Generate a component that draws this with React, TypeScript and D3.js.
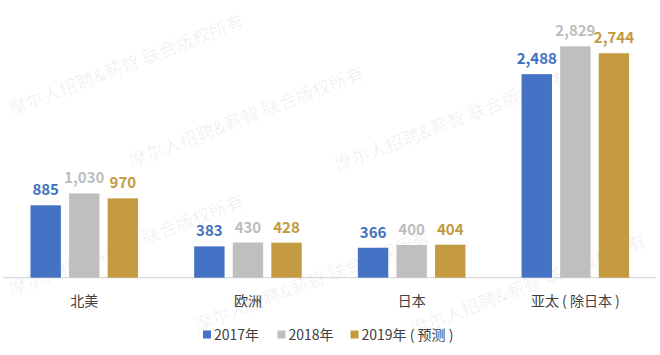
import React from "react";
import * as d3 from "d3";

const categories = ["北美", "欧洲", "日本", "亚太 ( 除日本 )"];
const seriesNames = ["2017年", "2018年", "2019年 ( 预测 )"];
const values2017 = [885, 383, 366, 2488];
const values2018 = [1030, 430, 400, 2829];
const values2019 = [970, 428, 404, 2744];
const seriesValues = [values2017, values2018, values2019];

const barColors = ["#4472C4", "#BFBFBF", "#C59B42"];
const labelColors = ["#4170BE", "#BDBDBD", "#C29A3E"];

const watermarkText = "摩尔人招聘&薪智 联合版权所有";
const watermarkAnchors: [number, number][] = [
  [12, 116],
  [132, 168],
  [12, 296],
  [198, 332],
  [338, 172],
  [414, 336],
];

const W = 660;
const H = 355;
const baseline = 277.7;
const font = "'Microsoft YaHei', 'Noto Sans CJK SC', 'Open Sans', sans-serif";

export default function App() {
  const x0 = d3
    .scaleBand<string>()
    .domain(categories)
    .range([2.4, 657.2])
    .paddingInner(0.343)
    .paddingOuter(0.1715);
  const x1 = d3
    .scaleBand<string>()
    .domain(seriesNames)
    .range([0, x0.bandwidth()])
    .paddingInner(0.212);
  const y = d3.scaleLinear().domain([0, 3000]).range([baseline, baseline - 0.0818 * 3000]);
  const fmt = d3.format(",");

  const legendX = [203, 277.5, 350.5];

  return (
    <svg
      width={W}
      height={H}
      style={{ position: "absolute", left: 0, top: 0, background: "#fff" }}
      fontFamily={font}
    >
      <rect x={0} y={0} width={W} height={H} fill="#fff" />
      {/* watermark */}
      {watermarkAnchors.map(([wx, wy], i) => (
        <text
          key={i}
          x={wx}
          y={wy}
          transform={`rotate(-21 ${wx} ${wy})`}
          fontSize={18}
          fill="#000"
          fillOpacity={0.065}
        >
          {watermarkText}
        </text>
      ))}
      {/* axis baseline */}
      <line x1={3} x2={656} y1={baseline} y2={baseline} stroke="#D9D9D9" strokeWidth={1.2} />
      {/* bars */}
      {categories.map((c, ci) => (
        <g key={c} transform={`translate(${x0(c)},0)`}>
          {seriesNames.map((s, si) => {
            const v = seriesValues[si][ci];
            const bx = x1(s)!;
            const bw = x1.bandwidth();
            return (
              <g key={s}>
                <rect x={bx} y={y(v)} width={bw} height={baseline - y(v)} fill={barColors[si]} />
                <text
                  x={bx + bw / 2}
                  y={y(v) - 10}
                  textAnchor="middle"
                  fontSize={15}
                  fontWeight={si === 1 ? 600 : 700}
                  fill={labelColors[si]}
                >
                  {fmt(v)}
                </text>
              </g>
            );
          })}
          <text
            x={x0.bandwidth() / 2}
            y={306}
            textAnchor="middle"
            fontSize={14}
            fill="#404040"
            style={{ whiteSpace: "pre" }}
          >
            {c}
          </text>
        </g>
      ))}
      {/* legend */}
      {seriesNames.map((s, si) => (
        <g key={s}>
          <rect x={legendX[si]} y={330.5} width={8} height={8} fill={barColors[si]} />
          <text x={legendX[si] + 11} y={340} fontSize={14} fill="#404040" style={{ whiteSpace: "pre" }}>
            {s}
          </text>
        </g>
      ))}
    </svg>
  );
}
